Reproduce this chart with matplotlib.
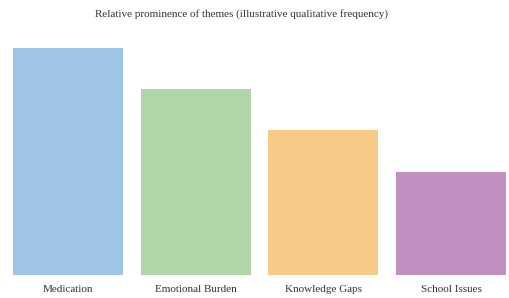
import matplotlib
matplotlib.use("Agg")
import matplotlib.pyplot as plt

themes = ["Medication", "Emotional Burden", "Knowledge Gaps", "School Issues"]
prominence = [11, 9, 7, 5]
colors = ["#9fc5e8", "#b0d6a8", "#f7cb87", "#c190c0"]

plt.rcParams['font.family'] = ['Liberation Serif', 'DejaVu Serif']

fig = plt.figure(figsize=(5.10, 2.98), dpi=100)
ax = fig.add_axes([13 / 510, 23 / 298, 493 / 510, 227.5 / 298])

x = range(len(themes))
ax.bar(x, prominence, width=0.86, color=colors)
ax.set_xlim(-0.43, len(themes) - 1 + 0.43)
ax.set_ylim(0, max(prominence))

ax.set_xticks(list(x))
ax.set_xticklabels(themes, fontsize=8, color="#333333")
ax.tick_params(axis='x', length=0, pad=7)
ax.set_yticks([])
for side in ax.spines.values():
    side.set_visible(False)

# title sits a bit left of the figure centre in the reference
fig.text(242 / 510, 1 - 14 / 298, "Relative prominence of themes (illustrative qualitative frequency)",
         ha='center', va='center', fontsize=8, color="#333333")

fig.savefig("out.png", dpi=100)
